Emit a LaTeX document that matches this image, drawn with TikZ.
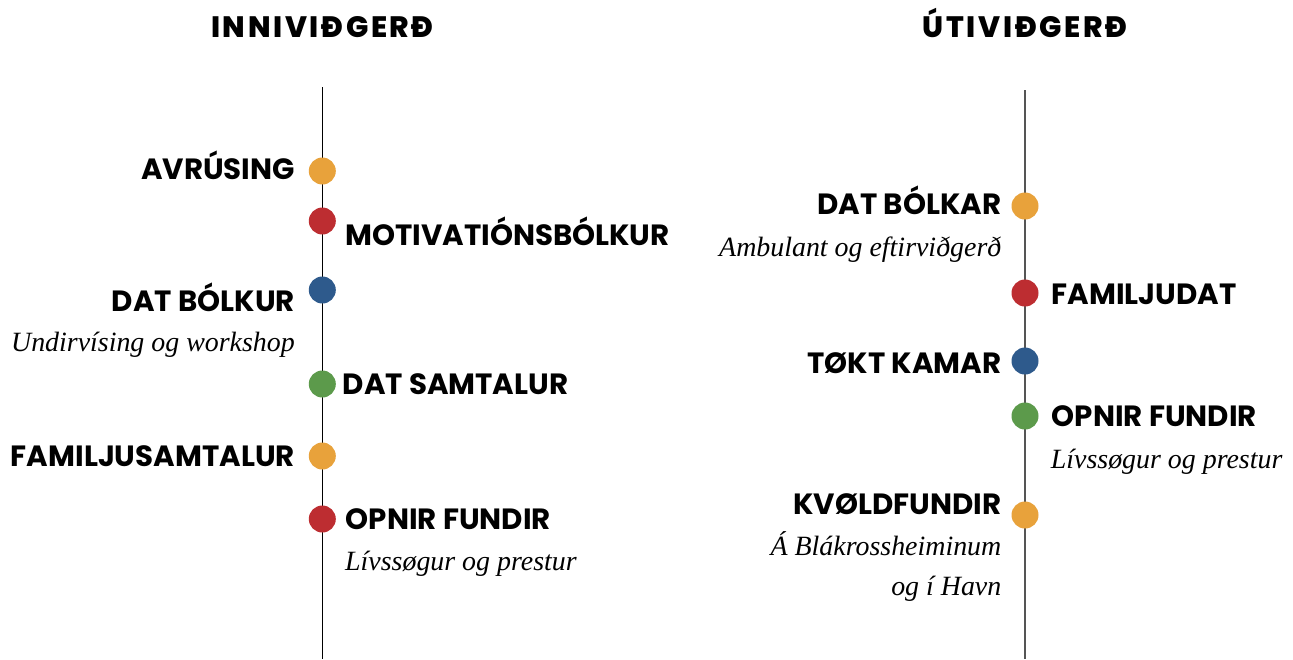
\documentclass[tikz,border=0pt]{standalone}
\usepackage{fontspec}
\newfontfamily\labfont{Poppins}[UprightFont=* Bold]
\newfontfamily\ttlfont{Poppins}[UprightFont=* ExtraBold, LetterSpace=9]
\newfontfamily\subfont{Liberation Serif}
\definecolor{cOrange}{HTML}{E8A23B}
\definecolor{cRed}{HTML}{BD2D31}
\definecolor{cBlue}{HTML}{2E5A8C}
\definecolor{cGreen}{HTML}{5C9A4B}
\definecolor{cGrey}{HTML}{555555}
\tikzset{
  dot/.style={circle, fill=#1, minimum size=27pt, inner sep=0pt},
  lbl/.style={inner sep=0pt, font=\labfont\fontsize{29.3}{32}\selectfont},
  ttl/.style={inner sep=0pt, font=\ttlfont\fontsize{29.5}{32}\selectfont},
  sub/.style={inner sep=0pt, font=\subfont\itshape\fontsize{27.9}{30}\selectfont},
  axisL/.style={line width=1.4pt, black},
  axisR/.style={line width=1.8pt, cGrey}
}
\begin{document}
\begin{tikzpicture}[x=1pt,y=-1pt]
\useasboundingbox (0,0) rectangle (1293,659);
% titles
\node[ttl, anchor=base] (t1) at (322.5,37.5) {INNIVIÐGERÐ};
\node[ttl, anchor=base] (t2) at (1025,37.5) {ÚTIVIÐGERÐ};
% axes
\coordinate (ltop) at (322.3,87);
\coordinate (lbot) at (322.3,659);
\coordinate (rtop) at (1025,90);
\coordinate (rbot) at (1025,659);
\draw[axisL] (ltop) -- (lbot);
\draw[axisR] (rtop) -- (rbot);
% left dots
\node[dot=cOrange] (d1) at (322.3,171) {};
\node[dot=cRed]    (d2) at (322.3,221) {};
\node[dot=cBlue]   (d3) at (322.3,290) {};
\node[dot=cGreen]  (d4) at (322.3,384) {};
\node[dot=cOrange] (d5) at (322.3,456) {};
\node[dot=cRed]    (d6) at (322.3,519) {};
% right dots
\node[dot=cOrange] (e1) at (1025,206) {};
\node[dot=cRed]    (e2) at (1025,293) {};
\node[dot=cBlue]   (e3) at (1025,361) {};
\node[dot=cGreen]  (e4) at (1025,416) {};
\node[dot=cOrange] (e5) at (1025,515) {};
% left labels
\node[lbl, anchor=base east] (l1) at (295,179.5) {AVRÚSING};
\node[lbl, anchor=base west] (l2) at (345,245.3) {MOTIVATIÓNSBÓLKUR};
\node[lbl, anchor=base east] (l3) at (295,311.3) {DAT BÓLKUR};
\node[sub, anchor=base east] (s3) at (295,351.7) {Undirvísing og workshop};
\node[lbl, anchor=base west] (l4) at (342.5,394) {DAT SAMTALUR};
\node[lbl, anchor=base east] (l5) at (295,466.3) {FAMILJUSAMTALUR};
\node[lbl, anchor=base west] (l6) at (345.5,529.6) {OPNIR FUNDIR};
\node[sub, anchor=base west] (s6) at (345,570) {Lívssøgur og prestur};
% right labels
\node[lbl, anchor=base east] (r1) at (1001.5,214.6) {DAT BÓLKAR};
\node[sub, anchor=base east] (q1) at (1001.5,256) {Ambulant og eftirviðgerð};
\node[lbl, anchor=base west] (r2) at (1051.5,304.6) {FAMILJUDAT};
\node[lbl, anchor=base east] (r3) at (1001.5,373.6) {TØKT KAMAR};
\node[lbl, anchor=base west] (r4) at (1051.5,426.3) {OPNIR FUNDIR};
\node[sub, anchor=base west] (q4) at (1050.7,468) {Lívssøgur og prestur};
\node[lbl, anchor=base east] (r5) at (1001.5,514.6) {KVØLDFUNDIR};
\node[sub, anchor=base east] (q5) at (1001.5,555.7) {Á Blákrossheiminum};
\node[sub, anchor=base east] (q6) at (1001.5,595.7) {og í Havn};
\end{tikzpicture}
\end{document}
